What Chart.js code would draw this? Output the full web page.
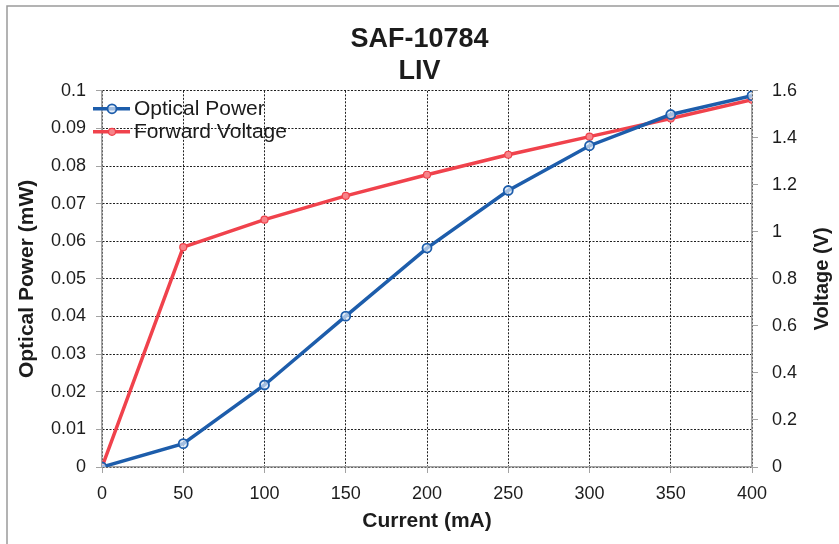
<!DOCTYPE html>
<html>
<head>
<meta charset="utf-8">
<script src="https://cdn.jsdelivr.net/npm/chart.js@4/dist/chart.umd.min.js"></script>
<style>
  html, body { margin: 0; padding: 0; background: #fff; }
  #wrap { width: 839px; height: 544px; }
</style>
</head>
<body>
<div id="wrap"><canvas id="myChart" width="839" height="544"></canvas></div>
<script>
// values
const currentMA = [0, 50, 100, 150, 200, 250, 300, 350, 400];
const opticalPower = [0, 0.0062, 0.0218, 0.0401, 0.0582, 0.0735, 0.0854, 0.0937, 0.0987];
const forwardVoltage = [0, 0.935, 1.052, 1.153, 1.243, 1.328, 1.405, 1.482, 1.562];
const titleLines = ['SAF-10784', 'LIV'];
const seriesNames = ['Optical Power', 'Forward Voltage'];
const axisNames = {x: 'Current (mA)', y: 'Optical Power (mW)', y1: 'Voltage (V)'};

const BLUE = '#1d5dab', RED = '#f0424c', AXIS = '#a3a3a3', GRID = '#202020';
const FONT = "'Liberation Sans', Arial, sans-serif";
Chart.defaults.font.family = FONT;
Chart.defaults.color = '#1c1c1c';

const toXY = (ys) => currentMA.map((x, i) => ({x: x, y: ys[i]}));

// outer frame of the pasted chart
const frame = {
  id: 'frame',
  beforeDraw(chart) {
    const {ctx} = chart;
    ctx.save();
    ctx.strokeStyle = '#9a9a9a';
    ctx.lineWidth = 1.5;
    ctx.strokeRect(7, 6, chart.width + 20, chart.height + 20);
    ctx.restore();
  }
};

// legend sitting inside the plot, top left; plus right axis title read bottom-to-top
const insideLegend = {
  id: 'insideLegend',
  afterDatasetsDraw(chart) {
    const {ctx, chartArea: {left, top, right, bottom}} = chart;
    ctx.save();
    chart.data.datasets.forEach((ds, i) => {
      const y = top + 18 + i * 23;
      ctx.strokeStyle = ds.borderColor;
      ctx.lineWidth = 3.5;
      ctx.beginPath();
      ctx.moveTo(left - 9, y);
      ctx.lineTo(left + 28, y);
      ctx.stroke();
      ctx.beginPath();
      ctx.arc(left + 10, y, ds.pointRadius, 0, Math.PI * 2);
      ctx.fillStyle = ds.pointBackgroundColor;
      ctx.fill();
      ctx.lineWidth = ds.pointBorderWidth;
      ctx.strokeStyle = ds.pointBorderColor;
      ctx.stroke();
      ctx.fillStyle = '#1c1c1c';
      ctx.font = '21px ' + FONT;
      ctx.textBaseline = 'middle';
      ctx.textAlign = 'left';
      ctx.fillText(ds.label, left + 32, y);
    });
    ctx.translate(chart.width - 17, (top + bottom) / 2);
    ctx.rotate(-Math.PI / 2);
    ctx.font = 'bold 20px ' + FONT;
    ctx.textAlign = 'center';
    ctx.textBaseline = 'middle';
    ctx.fillStyle = '#1c1c1c';
    ctx.fillText(axisNames.y1, 0, 0);
    ctx.restore();
  }
};

const gridOpts = {
  color: GRID,
  lineWidth: 1,
  tickColor: AXIS,
  tickLength: 6,
  tickBorderDash: []
};

const config = {
  type: 'line',
  data: {
    datasets: [
      {
        label: seriesNames[0], data: toXY(opticalPower), yAxisID: 'y',
        borderColor: BLUE, borderWidth: 3.5,
        pointRadius: 4.5, pointBorderWidth: 1.8,
        pointBorderColor: BLUE, pointBackgroundColor: 'rgba(220,232,248,0.7)'
      },
      {
        label: seriesNames[1], data: toXY(forwardVoltage), yAxisID: 'y1',
        borderColor: RED, borderWidth: 3.5,
        pointRadius: 3.5, pointBorderWidth: 1.2,
        pointBorderColor: RED, pointBackgroundColor: '#f7848a'
      }
    ]
  },
  options: {
    responsive: false,
    animation: false,
    layout: {padding: 0},
    plugins: {
      legend: {display: false},
      tooltip: {enabled: false},
      title: {
        display: true, text: titleLines, color: '#1c1c1c',
        font: {size: 27, weight: 'bold', lineHeight: 1.2},
        padding: {top: 23, bottom: 3}
      }
    },
    scales: {
      x: {
        type: 'linear', min: 0, max: 400,
        ticks: {stepSize: 50, padding: 10, font: {size: 18}, maxRotation: 0},
        grid: gridOpts,
        border: {color: AXIS, width: 1.5, dash: [2, 1.5]},
        title: {display: true, text: axisNames.x, font: {size: 21, weight: 'bold'}, padding: {top: 0, bottom: 10}},
        afterFit(s) { s.height = 77; }
      },
      y: {
        position: 'left', min: 0, max: 0.1,
        ticks: {stepSize: 0.01, padding: 10, font: {size: 18}, callback: (v) => +v.toFixed(2)},
        grid: gridOpts,
        border: {color: AXIS, width: 1.5, dash: [2, 1.5]},
        title: {display: true, text: axisNames.y, font: {size: 21, weight: 'bold'}, padding: {top: 15, bottom: 0}},
        afterFit(s) { s.width = 102; }
      },
      y1: {
        position: 'right', min: 0, max: 1.6,
        ticks: {stepSize: 0.2, padding: 14, font: {size: 18}, callback: (v) => +v.toFixed(1)},
        grid: {drawOnChartArea: false, tickColor: AXIS, tickLength: 6},
        border: {color: AXIS, width: 1.5},
        afterFit(s) { s.width = 87; }
      }
    }
  },
  plugins: [frame, insideLegend]
};

const myChart = new Chart(document.getElementById('myChart'), config);
</script>
</body>
</html>
